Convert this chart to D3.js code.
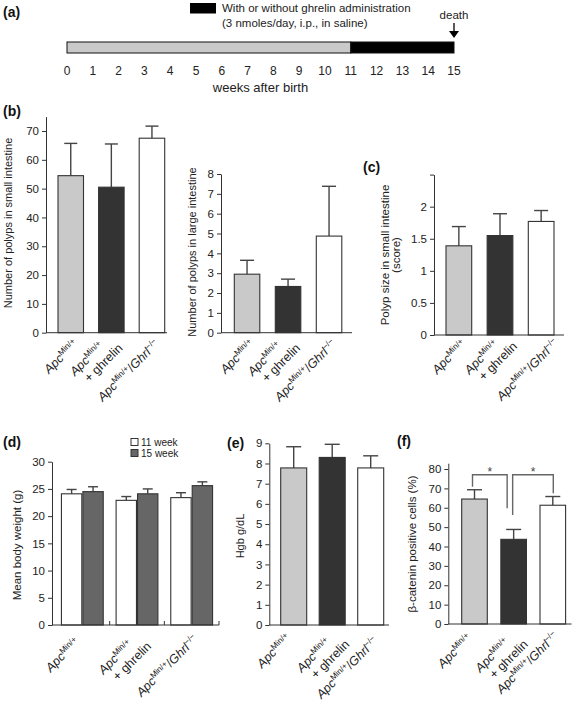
<!DOCTYPE html>
<html><head><meta charset="utf-8">
<script src="https://cdn.jsdelivr.net/npm/d3@7"></script>
<style>
body{margin:0;background:#fff;}
svg{display:block;font-family:"Liberation Sans",Arial,sans-serif;}
</style></head><body>
<svg id="chart" width="572" height="703"></svg>
<script>
// ---------- data ----------
const weekTicks = [0,1,2,3,4,5,6,7,8,9,10,11,12,13,14,15];
const treatmentStart = 11;
const deathWeek = 15;

const groups = ["ApcMin", "ApcMin+ghrelin", "ApcMin/Ghrl"];
const groupFills = ["#c9c9c9", "#333333", "#ffffff"];

const polypsSmall = [54.5, 50.5, 67.5];
const polypsSmallErr = [11.2, 15.0, 4.2];
const polypsSmallTicks = [0,10,20,30,40,50,60,70];

const polypsLarge = [2.95, 2.33, 4.87];
const polypsLargeErr = [0.70, 0.37, 2.51];
const polypsLargeTicks = [0,1,2,3,4,5,6,7,8];

const polypSize = [1.39, 1.55, 1.77];
const polypSizeErr = [0.30, 0.34, 0.17];
const polypSizeTicks = [0,0.5,1,1.5,2,2.5];
const polypSizeTickLabels = ["0","0.5","1","1.5","2",""];

const weightSeries = ["11 week", "15 week"];
const weight11 = [24.1, 22.9, 23.4];
const weight11Err = [0.8, 0.7, 0.9];
const weight15 = [24.5, 24.1, 25.6];
const weight15Err = [0.9, 0.9, 0.7];
const weightTicks = [0,5,10,15,20,25,30];

const hgb = [7.78, 8.30, 7.78];
const hgbErr = [1.05, 0.65, 0.60];
const hgbTicks = [0,1,2,3,4,5,6,7,8,9];

const catenin = [64.5, 43.7, 61.3];
const cateninErr = [4.8, 5.1, 4.5];
const cateninTicks = [0,10,20,30,40,50,60,70,80];
// significance brackets
const sigFrom = [0, 1];
const sigTo = [1, 2];
const sigTop = [77, 77];
const sigLeftEnd = [70.9, 56.3];
const sigRightEnd = [59.7, 67.5];
const sigLabel = ["*", "*"];

// x tick labels (formatted segments)
const xLabelLines = [
  [[{t:"Apc",it:1},{t:"Min/+",sup:1}]],
  [[{t:"Apc",it:1},{t:"Min/+",sup:1}],[{t:"+ ghrelin"}]],
  [[{t:"Apc",it:1},{t:"Min/+",sup:1},{t:"/"},{t:"Ghrl",it:1},{t:"\u2212/\u2212",sup:1}]]
];

// ---------- drawing ----------
const svg = d3.select("#chart");
const FONT = '"Liberation Sans",Arial,sans-serif';
const INK = "#222";
const AX = "#333";

function panelLabel(txt, x, y) {
  svg.append("text").attr("x", x).attr("y", y).attr("font-size", 14)
    .attr("font-weight", "bold").attr("fill", "#111").text(txt);
}

function yAxis(y, x, ticks, fmt) {
  const ax = svg.append("g").attr("transform", `translate(${x},0)`)
    .call(d3.axisLeft(y).tickValues(ticks).tickSize(4).tickSizeOuter(0).tickPadding(3)
      .tickFormat(fmt || (d => d)));
  ax.attr("font-family", FONT).attr("font-size", 11.5);
  ax.select(".domain").attr("stroke", AX);
  ax.selectAll(".tick line").attr("stroke", AX);
  ax.selectAll(".tick text").attr("fill", INK);
  return ax;
}

function xAxisLine(x1, x2, yy) {
  svg.append("line").attr("x1", x1).attr("x2", x2).attr("y1", yy).attr("y2", yy)
    .attr("stroke", AX).attr("stroke-width", 1);
}

function yLabel(lines, x, y, fs) {
  lines.forEach((t, i) => {
    svg.append("text").attr("transform", `translate(${x + i * 11},${y}) rotate(-90)`)
      .attr("text-anchor", "middle").attr("font-size", fs || 11).attr("fill", INK).text(t);
  });
}

function xLabels(centers, axisY, offs, fs) {
  xLabelLines.forEach((lines, i) => {
    const [dx, dy] = offs[i];
    const gg = svg.append("g").attr("transform", `translate(${centers[i] + dx},${axisY + dy}) rotate(-45)`);
    lines.forEach((segs, li) => {
      const k = lines.length - 1 - li;
      const t = gg.append("text").attr("x", -12 * k).attr("y", -14.5 * k)
        .attr("text-anchor", "end").attr("font-size", fs).attr("fill", INK);
      let up = false;
      segs.forEach(s => {
        const ts = t.append("tspan").text(s.t);
        if (s.it) ts.attr("font-style", "italic");
        if (s.sup) {
          ts.attr("font-size", fs * 0.66);
          if (!up) { ts.attr("dy", -4.5); up = true; }
        } else if (up) { ts.attr("dy", 4.5); up = false; }
      });
    });
  });
}

function errBar(cx, yTop, yCap, capW) {
  svg.append("line").attr("x1", cx).attr("x2", cx).attr("y1", yTop).attr("y2", yCap)
    .attr("stroke", "#444").attr("stroke-width", 1.4);
  svg.append("line").attr("x1", cx - capW / 2).attr("x2", cx + capW / 2).attr("y1", yCap).attr("y2", yCap)
    .attr("stroke", "#444").attr("stroke-width", 1.4);
}

function barPanel(o) {
  const y = d3.scaleLinear().domain(o.yDomain).range(o.yRange);
  const step = o.step, bw = o.bw;
  const pi = 1 - bw / step;
  const r0 = o.first - (step - bw) / 2;
  const x = d3.scaleBand().domain(groups).range([r0, r0 + 3 * step]).paddingInner(pi).paddingOuter(pi / 2);
  groups.forEach((g, i) => {
    const cx = x(g) + x.bandwidth() / 2;
    errBar(cx, y(o.values[i]), y(o.values[i] + o.errs[i]), o.capW);
  });
  svg.append("g").selectAll("rect").data(groups).join("rect")
    .attr("x", d => x(d)).attr("width", x.bandwidth())
    .attr("y", (d, i) => y(o.values[i])).attr("height", (d, i) => y(0) - y(o.values[i]))
    .attr("fill", (d, i) => groupFills[i]).attr("stroke", AX).attr("stroke-width", 1.1);
  yAxis(y, o.axisX, o.ticks, o.fmt);
  xAxisLine(o.axisX, o.axisEnd, y(0));
  xLabels(groups.map(g => x(g) + x.bandwidth() / 2), y(0), o.labelOffs, 12.5);
  return {x, y};
}

// ---- (a) timeline ----
panelLabel("(a)", 3, 17);
const tx = d3.scaleLinear().domain([0, 15]).range([67, 454]);
svg.append("rect").attr("x", tx(0)).attr("y", 42).attr("width", tx(treatmentStart) - tx(0)).attr("height", 11)
  .attr("fill", "#c9c9c9").attr("stroke", "#111").attr("stroke-width", 1);
svg.append("rect").attr("x", tx(treatmentStart)).attr("y", 42).attr("width", tx(deathWeek) - tx(treatmentStart)).attr("height", 11)
  .attr("fill", "#000").attr("stroke", "#111").attr("stroke-width", 1);
svg.append("g").selectAll("text").data(weekTicks).join("text")
  .attr("x", d => tx(d)).attr("y", 75).attr("text-anchor", "middle").attr("font-size", 12).attr("fill", INK).text(d => d);
svg.append("text").attr("x", tx(7.5)).attr("y", 92).attr("text-anchor", "middle").attr("font-size", 13).attr("fill", INK).text("weeks after birth");
svg.append("rect").attr("x", 190).attr("y", 3).attr("width", 26).attr("height", 10.5).attr("fill", "#000");
svg.append("text").attr("x", 222).attr("y", 12).attr("font-size", 11.5).attr("fill", INK).text("With or without ghrelin administration");
svg.append("text").attr("x", 222).attr("y", 27).attr("font-size", 11.5).attr("fill", INK).text("(3 nmoles/day, i.p., in saline)");
svg.append("text").attr("x", tx(deathWeek)).attr("y", 19).attr("text-anchor", "middle").attr("font-size", 11.5).attr("fill", INK).text("death");
svg.append("line").attr("x1", tx(deathWeek)).attr("x2", tx(deathWeek)).attr("y1", 23).attr("y2", 33).attr("stroke", "#000").attr("stroke-width", 1.3);
svg.append("path").attr("d", `M${tx(deathWeek) - 5},31 L${tx(deathWeek) + 5},31 L${tx(deathWeek)},38 Z`).attr("fill", "#000");

// ---- (b) ----
panelLabel("(b)", 3, 116);
barPanel({values: polypsSmall, errs: polypsSmallErr, yDomain: [0, 75], yRange: [332.7, 116.6],
  ticks: polypsSmallTicks, axisX: 46, axisEnd: 167, first: 58, step: 40.6, bw: 25.5, capW: 13,
  labelOffs: [[8, 12], [12, 16], [8, 12]]});
yLabel(["Number of polyps in small intestine"], 11.5, 223);

barPanel({values: polypsLarge, errs: polypsLargeErr, yDomain: [0, 8], yRange: [332.7, 174],
  ticks: polypsLargeTicks, axisX: 221, axisEnd: 352, first: 234.3, step: 41, bw: 25.5, capW: 14,
  labelOffs: [[8, 12], [13, 16], [8, 12]]});
yLabel(["Number of polyps in large intestine"], 196, 252);

// ---- (c) ----
panelLabel("(c)", 363, 172);
barPanel({values: polypSize, errs: polypSizeErr, yDomain: [0, 2.5], yRange: [335, 174.6],
  ticks: polypSizeTicks, fmt: (d, i) => polypSizeTickLabels[i], axisX: 434, axisEnd: 564,
  first: 446, step: 41.15, bw: 25.7, capW: 14,
  labelOffs: [[8, 10], [18, 12], [18, 9]]});
yLabel(["Polyp size in small intestine", "(score)"], 389, 255, 11.5);

// ---- (d) ----
panelLabel("(d)", 3, 447);
{
  const y = d3.scaleLinear().domain([0, 30]).range([625, 461.7]);
  const x0 = d3.scaleBand().domain(groups).range([55, 219]).padding(0);
  const x1 = d3.scaleBand().domain(weightSeries).range([0, x0.bandwidth()]).paddingInner(0.05).paddingOuter(0.3);
  const vals = [weight11, weight15], errs = [weight11Err, weight15Err];
  const fills = ["#ffffff", "#666666"];
  weightSeries.forEach((s, si) => {
    groups.forEach((g, i) => {
      const cx = x0(g) + x1(s) + x1.bandwidth() / 2;
      errBar(cx, y(vals[si][i]), y(vals[si][i] + errs[si][i]), 10);
    });
    svg.append("g").selectAll("rect").data(groups).join("rect")
      .attr("x", d => x0(d) + x1(s)).attr("width", x1.bandwidth())
      .attr("y", (d, i) => y(vals[si][i])).attr("height", (d, i) => y(0) - y(vals[si][i]))
      .attr("fill", fills[si]).attr("stroke", AX).attr("stroke-width", 1.1);
  });
  yAxis(y, 52, weightTicks);
  xAxisLine(52, 219, y(0));
  groups.forEach(g => {
    const bx = x0(g) + x0.bandwidth();
    svg.append("line").attr("x1", bx).attr("x2", bx).attr("y1", y(0)).attr("y2", y(0) - 4).attr("stroke", AX);
  });
  xLabels(groups.map(g => x0(g) + x0.bandwidth() / 2), y(0), [[-2, 18], [15, 22], [7, 15]], 12.5);
  yLabel(["Mean body weight (g)"], 21, 545, 11.5);
  // legend
  weightSeries.forEach((s, i) => {
    svg.append("rect").attr("x", 131).attr("y", 438.5 + i * 11).attr("width", 7).attr("height", 7)
      .attr("fill", fills[i]).attr("stroke", AX);
    svg.append("text").attr("x", 141).attr("y", 445.5 + i * 11).attr("font-size", 10).attr("fill", INK).text(s);
  });
}

// ---- (e) ----
panelLabel("(e)", 227, 448);
barPanel({values: hgb, errs: hgbErr, yDomain: [0, 9], yRange: [625, 443.3],
  ticks: hgbTicks, axisX: 269.3, axisEnd: 389, first: 280.7, step: 38.5, bw: 26, capW: 15,
  labelOffs: [[-2, 14], [18, 20], [8, 17]]});
yLabel(["Hgb g/dL"], 244, 536);

// ---- (f) ----
panelLabel("(f)", 397, 446);
{
  const {x, y} = barPanel({values: catenin, errs: cateninErr, yDomain: [0, 83], yRange: [624, 463.2],
    ticks: cateninTicks, axisX: 448.3, axisEnd: 571.5, first: 461.7, step: 39.15, bw: 25.6, capW: 15,
    labelOffs: [[-2, 15], [15, 21], [6, 13]]});
  yLabel(["\u03b2-catenin positive cells (%)"], 415.5, 544, 11.5);
  const cx = i => x(groups[i]) + x.bandwidth() / 2;
  sigFrom.forEach((f, k) => {
    const xl = cx(f) + (k === 0 ? -2 : -1);
    const xr = cx(sigTo[k]) + (k === 0 ? -6.5 : 0.5);
    svg.append("path")
      .attr("d", `M${xl},${y(sigLeftEnd[k])} V${y(sigTop[k])} H${xr} V${y(sigRightEnd[k])}`)
      .attr("fill", "none").attr("stroke", "#666").attr("stroke-width", 1.4);
    svg.append("text").attr("x", (xl + xr) / 2).attr("y", y(sigTop[k]) + 1).attr("text-anchor", "middle")
      .attr("font-size", 12).attr("fill", "#444").text(sigLabel[k]);
  });
}
</script>
</body></html>
